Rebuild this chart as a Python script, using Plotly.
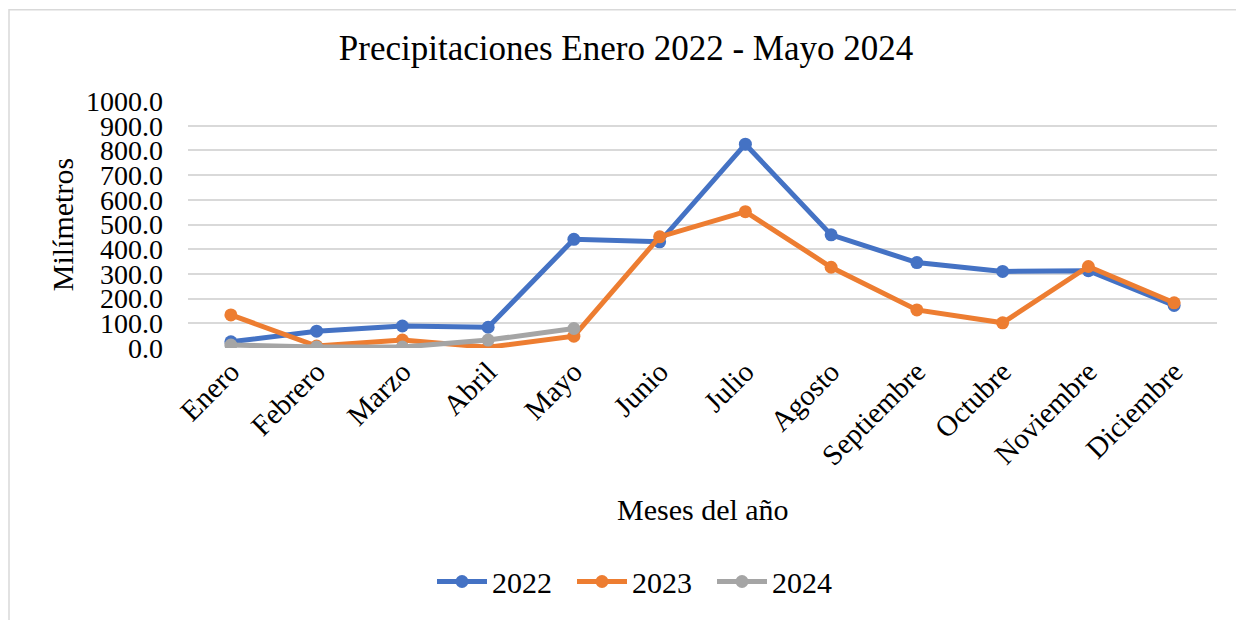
import plotly.graph_objects as go

months = ["Enero", "Febrero", "Marzo", "Abril", "Mayo", "Junio", "Julio",
          "Agosto", "Septiembre", "Octubre", "Noviembre", "Diciembre"]
y2022 = [25, 68, 89, 84, 440, 430, 825, 458, 346, 310, 313, 172]
y2023 = [134, 8, 32, 3, 48, 450, 552, 327, 154, 102, 330, 183]
y2024 = [12, 4, 4, 32, 79]
yticks = [0, 100, 200, 300, 400, 500, 600, 700, 800, 900, 1000]

FONT = "Liberation Serif"
W, H = 1244, 620
OFF = 8  # page body offset
# screen-pixel layout of the plot area
SX0, SX1, SY0, SY1 = 188, 1217, 100.5, 348
L = SX0 - OFF
R = W - (SX1 - OFF)
T = SY0 - OFF
B = H - (SY1 - OFF)
pw = SX1 - SX0
ph = SY1 - SY0

def px_x(x):
    return (x - SX0) / pw

def px_y(y):
    return (SY1 - y) / ph

fig = go.Figure()
series = [("2022", y2022, "#4472C4"), ("2023", y2023, "#ED7D31"), ("2024", y2024, "#A5A5A5")]
for name, vals, col in series:
    fig.add_trace(go.Scatter(
        x=months[:len(vals)], y=vals, name=name, mode="lines+markers",
        line=dict(color=col, width=5), marker=dict(color=col, size=13),
    ))

fig.update_layout(
    width=W, height=H,
    margin=dict(l=L, r=R, t=T, b=B),
    paper_bgcolor="white", plot_bgcolor="white",
    font=dict(family=FONT, color="black", size=28),
    title=dict(text="Precipitaciones Enero 2022 - Mayo 2024", x=(626 - OFF) / W, xanchor="center",
               y=1 - (48 - OFF) / H, yanchor="middle", font=dict(size=35, family=FONT, color="black")),
    showlegend=True,
    legend=dict(orientation="h", x=px_x(642), xanchor="center", y=px_y(582), yanchor="middle",
                font=dict(size=30, family=FONT, color="black"), itemwidth=50,
                entrywidth=75, entrywidthmode="pixels", bgcolor="rgba(0,0,0,0)"),
    xaxis=dict(type="category", categoryorder="array", categoryarray=months,
               tickangle=-45, showgrid=False, showline=False, ticks="",
               tickfont=dict(size=29, family=FONT), range=[-0.5, 11.5]),
    yaxis=dict(range=[0, 1000], tickvals=yticks, tickformat=".1f",
               showgrid=True, gridcolor="#D9D9D9", gridwidth=1.5, zeroline=False,
               showline=False, ticks="", tickfont=dict(size=28, family=FONT), ticklabelstandoff=24),
    annotations=[
        dict(text="Milímetros", xref="paper", yref="paper", x=px_x(62), y=px_y(225),
             textangle=-90, showarrow=False, font=dict(size=30, family=FONT),
             xanchor="center", yanchor="middle"),
        dict(text="Meses del año", xref="paper", yref="paper", x=px_x(703), y=px_y(510),
             showarrow=False, font=dict(size=30, family=FONT), xanchor="center", yanchor="middle"),
    ],
    shapes=[dict(type="rect", xref="paper", yref="paper", x0=px_x(9), x1=px_x(1270),
                 y0=px_y(650), y1=px_y(9), line=dict(color="#D9D9D9", width=1.5),
                 fillcolor="rgba(0,0,0,0)", layer="below")],
)

fig.write_html("out.html")
